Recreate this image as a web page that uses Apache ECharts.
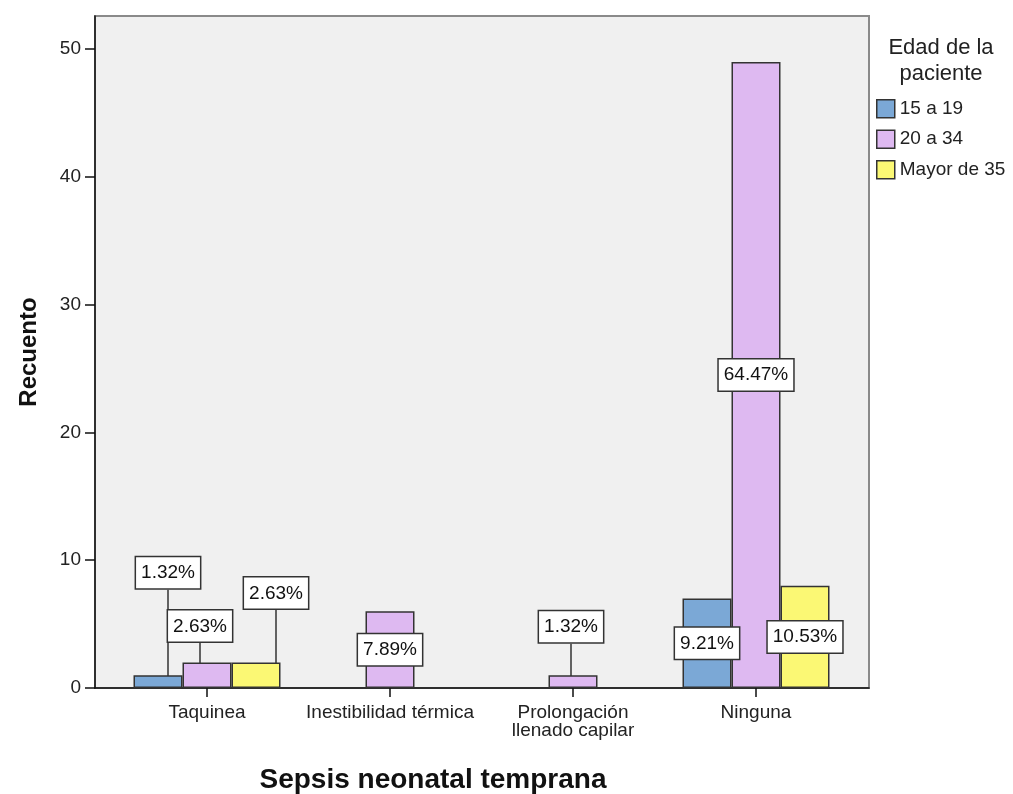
<!DOCTYPE html>
<html>
<head>
<meta charset="utf-8">
<script src="https://cdn.jsdelivr.net/npm/echarts@6/dist/echarts.min.js"></script>
<style>
html,body{margin:0;padding:0;background:#fff;}
#chart{width:1013px;height:794px;}
</style>
</head>
<body>
<div id="chart"></div>
<script>
// ---- data ----
const categories = ['Taquinea', 'Inestibilidad térmica', 'Prolongación\nllenado capilar', 'Ninguna'];
const seriesNames = ['15 a 19', '20 a 34', 'Mayor de 35'];
const edad15a19 = [1, null, null, 7];
const edad20a34 = [2, 6, 1, 49];
const edadMayor35 = [2, null, null, 8];
const yTicks = [0, 10, 20, 30, 40, 50];
const legendTitle = 'Edad de la\npaciente';
const xTitle = 'Sepsis neonatal temprana';
const yTitle = 'Recuento';

// ---- style ----
const FONT = "'Liberation Sans', Arial, sans-serif";
const colors = ['#7BA8D6', '#DEB9F1', '#FBF874'];
// label shifts (px) for labels moved above short bars, keyed "series-category"
const labelShift = { '0-0': [10, -82], '1-0': [-7, -16], '2-0': [20, -49], '1-2': [-2, -28] };

const allSeries = [edad15a19, edad20a34, edadMayor35];
let total = 0;
allSeries.forEach(a => a.forEach(v => { if (v != null) total += v; }));

function buildData(values, si) {
  return values.map((v, ci) => {
    if (v == null) return null;
    const key = si + '-' + ci;
    const moved = !!labelShift[key];
    return {
      value: v,
      label: { position: moved ? 'top' : 'inside', distance: 5 },
      labelLine: { show: moved }
    };
  });
}

const series = allSeries.map((vals, si) => ({
  name: seriesNames[si],
  type: 'bar',
  xAxisIndex: 1,
  yAxisIndex: 1,
  barWidth: 49,
  barGap: '0%',
  data: buildData(vals, si),
  itemStyle: { color: colors[si], borderColor: '#333', borderWidth: 1.5 },
  label: {
    show: true,
    formatter: p => (p.value / total * 100).toFixed(2) + '%',
    fontFamily: FONT,
    fontSize: 19,
    color: '#111',
    backgroundColor: '#fff',
    borderColor: '#333',
    borderWidth: 1.5,
    padding: [6, 5, 5, 5],
    lineHeight: 20
  },
  labelLine: { show: false, lineStyle: { color: '#333', width: 1.5 } },
  labelLayout: function (p) {
    const s = labelShift[si + '-' + p.dataIndex];
    if (s) return { dx: s[0], dy: s[1] };
    return {};
  },
  emphasis: { disabled: true },
  z: 3
}));

const chart = echarts.init(document.getElementById('chart'), null, { renderer: 'canvas' });
chart.setOption({
  animation: false,
  textStyle: { fontFamily: FONT },
  title: [
    { text: xTitle, left: 428, top: 761, textAlign: 'center',
      textStyle: { fontFamily: FONT, fontSize: 28, fontWeight: 'bold', color: '#111' } },
    { text: legendTitle, left: 936, top: 30, textAlign: 'center',
      textStyle: { fontFamily: FONT, fontSize: 22, fontWeight: 'normal', color: '#222', lineHeight: 26 } }
  ],
  legend: {
    data: seriesNames,
    orient: 'vertical',
    left: 871,
    top: 94,
    icon: 'rect',
    itemWidth: 18,
    itemHeight: 18,
    itemGap: 11,
    itemStyle: { borderColor: '#333', borderWidth: 1.5 },
    textStyle: { fontFamily: FONT, fontSize: 19, color: '#222', lineHeight: 18 },
    selectedMode: false
  },
  grid: [
    { left: 95, right: 144, top: 16, bottom: 106, show: true, backgroundColor: '#F0F0F0',
      borderColor: '#8a8a8a', borderWidth: 2 },
    { left: 115.5, right: 165.5, top: 16, bottom: 106 }
  ],
  xAxis: [
    { gridIndex: 0, type: 'value', min: 0, max: 1,
      axisLine: { show: true, lineStyle: { color: '#111', width: 1.5 } },
      axisTick: { show: false }, axisLabel: { show: false }, splitLine: { show: false } },
    { gridIndex: 1, type: 'category', data: categories,
      axisLine: { show: false },
      axisTick: { show: true, alignWithLabel: true, length: 9, lineStyle: { color: '#111', width: 1.5 } },
      axisLabel: { interval: 0, fontFamily: FONT, fontSize: 19, color: '#222', margin: 16, lineHeight: 18 } }
  ],
  yAxis: [
    { gridIndex: 0, type: 'value', min: 0, max: 52.6,
      name: yTitle, nameLocation: 'middle', nameGap: 54,
      nameTextStyle: { fontFamily: FONT, fontSize: 24, fontWeight: 'bold', color: '#111' },
      axisLine: { show: true, lineStyle: { color: '#111', width: 1.5 } },
      axisTick: { show: true, length: 10, customValues: yTicks, lineStyle: { color: '#111', width: 1.5 } },
      axisLabel: { customValues: yTicks, fontFamily: FONT, fontSize: 19, color: '#222', margin: 14 },
      splitLine: { show: false } },
    { gridIndex: 1, type: 'value', min: 0, max: 52.6, show: false, splitLine: { show: false } }
  ],
  series: series
});
</script>
</body>
</html>
